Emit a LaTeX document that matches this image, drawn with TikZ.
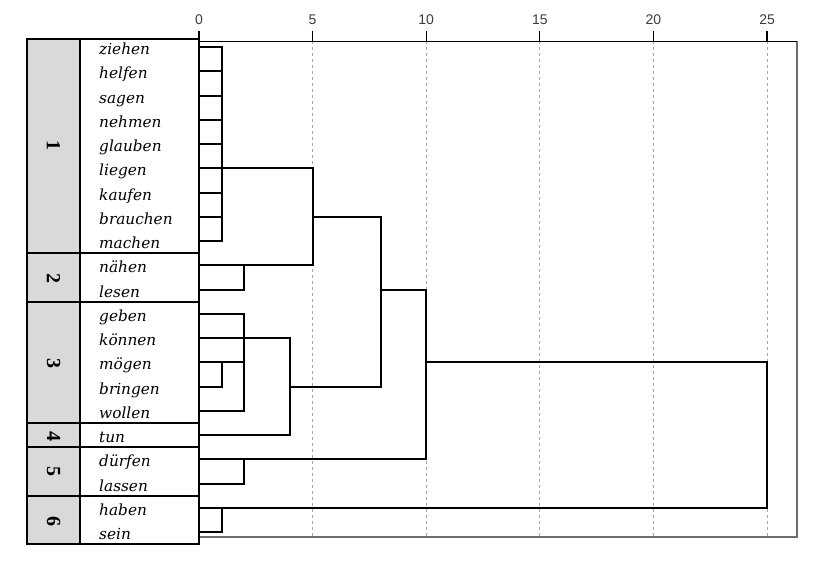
\documentclass[tikz,border=0pt]{standalone}
\usepackage{fontspec}
\newfontfamily\wordfont{DejaVu Serif}
\newfontfamily\axisfont{Liberation Sans}
\newfontfamily\numfont{Liberation Serif}
\usetikzlibrary{positioning}
\definecolor{grpgrey}{HTML}{D9D9D9}
\definecolor{gridgrey}{HTML}{A8A8A8}
\definecolor{framegrey}{HTML}{6E6E6E}
\definecolor{axisgrey}{HTML}{3C3C3C}
\tikzset{
	word/.style = {anchor=base west, inner sep=0pt, font=\wordfont\itshape\fontsize{15.3}{17}\selectfont},
	grpnum/.style = {rotate=-90, inner sep=0pt, font=\numfont\bfseries\fontsize{20}{21}\selectfont},
	ticklabel/.style = {inner sep=0pt, text=axisgrey, font=\axisfont\fontsize{14}{15}\selectfont},
	tree/.style = {line width=2pt, line cap=rect},
	tablebox/.style = {line width=2pt},
	gridline/.style = {gridgrey, dashed, line width=0.7pt},
	}

\begin{document}
\begin{tikzpicture}[x=22.72pt, y=-24.25pt]
\useasboundingbox (-8.759,-1.938) rectangle (27.33,21.485);

% FRAME, GRID, AXIS
\foreach \v in {5,10,...,25}
	\draw [gridline] (\v,-0.24) -- (\v,20.2);
\draw [framegrey, line width=1.3pt] (26.32,-0.24) -- (26.32,20.2) -- (0,20.2);
\draw [line width=1.3pt] (0,-0.24) -- (26.32,-0.24);
\foreach \v in {0,5,...,25} {
	\draw [line width=1.3pt] (\v,-0.66) -- (\v,-0.24);
	\node (tick\v) [ticklabel] at (\v,-1.12) {\v};
	}

% LABEL TABLE
\fill [grpgrey] (-7.57,-0.33) rectangle (-5.24,20.5);
\draw [tablebox] (-7.57,-0.33) rectangle (0,20.5);
\draw [tablebox] (-5.24,-0.33) -- (-5.24,20.5);
\foreach \r in {8.5,10.5,15.5,16.5,18.5}
	\draw [tablebox] (-7.57,\r) -- (0,\r);
\node (g1) [grpnum] at (-6.4,4.08) {1};
\node (g2) [grpnum] at (-6.4,9.53) {2};
\node (g3) [grpnum] at (-6.4,13.07) {3};
\node (g4) [grpnum] at (-6.4,16.04) {4};
\node (g5) [grpnum] at (-6.4,17.5) {5};
\node (g6) [grpnum] at (-6.4,19.55) {6};

% LEAVES
\foreach \w [count=\i from 0] in {ziehen,helfen,sagen,nehmen,glauben,liegen,kaufen,brauchen,machen,nähen,lesen,geben,können,mögen,bringen,wollen,tun,dürfen,lassen,haben,sein} {
	\node (w\i) [word] at (-4.4,\i+0.31) {\w};
	\coordinate (l\i) at (0,\i);
	}

% MERGES
\coordinate (k1) at (1,5);
\coordinate (k2) at (2,9);
\coordinate (k12) at (5,7);
\coordinate (k3a) at (1,13);
\coordinate (k3) at (2,12);
\coordinate (k34) at (4,14);
\coordinate (k1234) at (8,10);
\coordinate (k5) at (2,17);
\coordinate (k15) at (10,13);
\coordinate (k6) at (1,19);
\coordinate (root) at (25,16);

%CONNECTIONS
\draw [tree] (l0) -| (k1) |- (l8);
\foreach \i in {1,...,7}
	\draw [tree] (l\i) -- (l\i -| k1);
\draw [tree] (l9) -| (k2) |- (l10);
\draw [tree] (k1) -| (k12) |- (k2);
\draw [tree] (l13) -| (k3a) |- (l14);
\draw [tree] (l11) -| (k3) |- (l15);
\draw [tree] (l12) -- (k3);
\draw [tree] (k3a) -- (k3a -| k3);
\draw [tree] (k3) -| (k34) |- (l16);
\draw [tree] (k12) -| (k1234) |- (k34);
\draw [tree] (l17) -| (k5) |- (l18);
\draw [tree] (k1234) -| (k15) |- (k5);
\draw [tree] (l19) -| (k6) |- (l20);
\draw [tree] (k15) -| (root) |- (k6);

\end{tikzpicture}
\end{document}
